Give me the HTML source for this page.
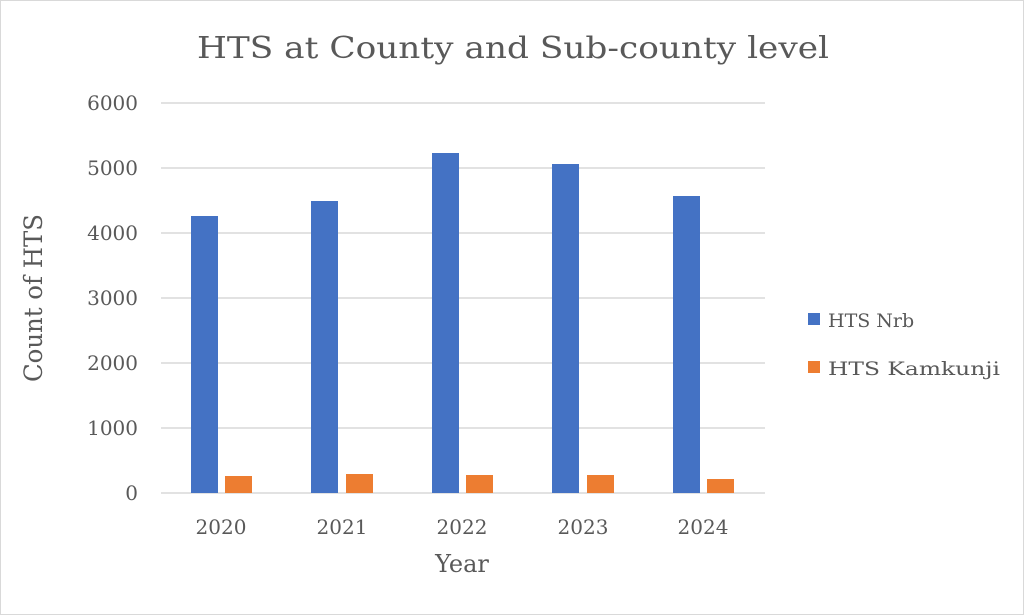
<!DOCTYPE html><html><head><style>body{margin:0}svg{display:block}text{font-family:"DejaVu Serif",serif;fill:#595959}</style></head><body>
<svg width="1024" height="615" xmlns="http://www.w3.org/2000/svg">
<rect x="0.5" y="0.5" width="1023" height="614" fill="#fff" stroke="#d9d9d9"/>
<text x="513" y="58" font-size="30" text-anchor="middle" textLength="632" lengthAdjust="spacingAndGlyphs">HTS at County and Sub-county level</text>
<g stroke="#d9d9d9" stroke-width="1.5">
<line x1="161" x2="765" y1="103" y2="103"/><line x1="161" x2="765" y1="168" y2="168"/><line x1="161" x2="765" y1="233" y2="233"/><line x1="161" x2="765" y1="298" y2="298"/><line x1="161" x2="765" y1="363" y2="363"/><line x1="161" x2="765" y1="428" y2="428"/><line x1="161" x2="765" y1="493" y2="493"/></g>
<g font-size="20" text-anchor="end">
<text x="138" y="110">6000</text><text x="138" y="175">5000</text><text x="138" y="240">4000</text><text x="138" y="305">3000</text><text x="138" y="370">2000</text><text x="138" y="435">1000</text><text x="138" y="500">0</text></g>
<g fill="#4472c4">
<rect x="191" y="216" width="27" height="277"/><rect x="311" y="201" width="27" height="292"/><rect x="432" y="153" width="27" height="340"/><rect x="552" y="164" width="27" height="329"/><rect x="673" y="196" width="27" height="297"/></g>
<g fill="#ed7d31">
<rect x="225" y="476" width="27" height="17"/><rect x="346" y="474" width="27" height="19"/><rect x="466" y="475" width="27" height="18"/><rect x="587" y="475" width="27" height="18"/><rect x="707" y="479" width="27" height="14"/></g>
<g font-size="20" text-anchor="middle">
<text x="221" y="534">2020</text><text x="342" y="534">2021</text><text x="462" y="534">2022</text><text x="583" y="534">2023</text><text x="703" y="534">2024</text></g>
<text x="462" y="572" font-size="24" text-anchor="middle">Year</text>
<text transform="translate(42,298) rotate(-90)" font-size="25" text-anchor="middle" textLength="168" lengthAdjust="spacingAndGlyphs">Count of HTS</text>
<rect x="808" y="313" width="12" height="12" fill="#4472c4"/>
<text x="828" y="327" font-size="19">HTS Nrb</text>
<rect x="808" y="361" width="12" height="12" fill="#ed7d31"/>
<text x="828" y="375" font-size="19" textLength="172" lengthAdjust="spacingAndGlyphs">HTS Kamkunji</text>
</svg></body></html>
